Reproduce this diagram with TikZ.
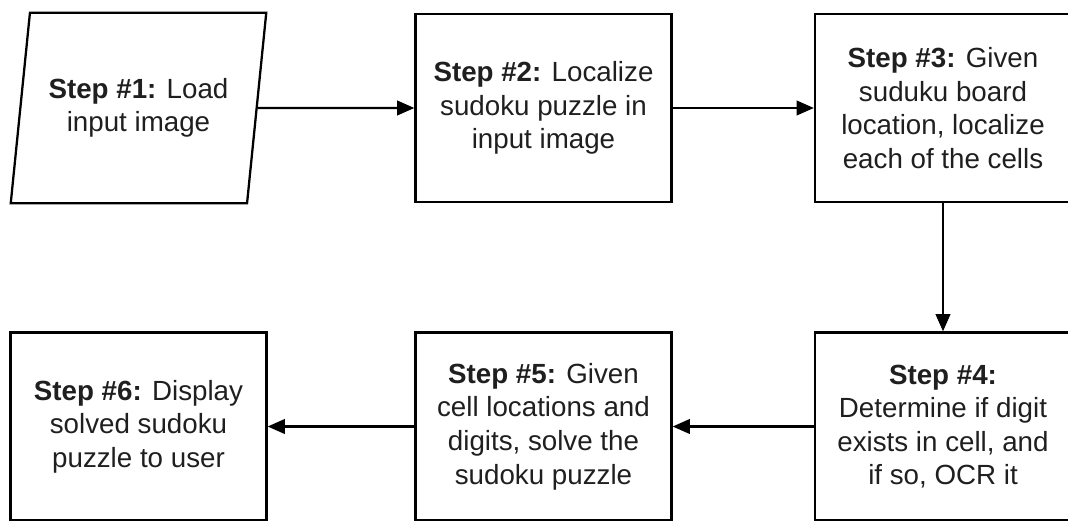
\documentclass[tikz,border=0pt]{standalone}
\usepackage{fontspec}
\setmainfont{Liberation Sans}
\usetikzlibrary{arrows.meta,positioning,shapes.geometric}

\tikzset{
  stepbox/.style={draw,line width=1.7pt,rectangle,align=center,
    minimum width=192pt,minimum height=141pt,inner sep=0pt,
    font=\fontsize{20.8}{25.2}\selectfont,text=black!88},
  inputbox/.style={draw,line width=1.7pt,trapezium,trapezium left angle=75,
    trapezium right angle=105,trapezium stretches=true,align=center,
    minimum width=192pt,minimum height=143pt,inner sep=0pt,
    font=\fontsize{20.8}{25.2}\selectfont,text=black!88},
  flow/.style={line width=1.6pt,-{Triangle[length=13pt,width=11pt]}}
}

\begin{document}
\begin{tikzpicture}[x=0.75pt,y=-0.75pt]
  \useasboundingbox (0,0) rectangle (1068,521);
  % top row
  \node[inputbox] (s1) at (138.5,108) {\textbf{Step \#1:} Load\\input image};
  \node[stepbox] (s2) at (543.5,108) {\textbf{Step \#2:} Localize\\sudoku puzzle in\\input image};
  \node[stepbox] (s3) at (943,108) {\textbf{Step \#3:} Given\\suduku board\\location, localize\\each of the cells};
  % bottom row
  \node[stepbox] (s4) at (943,426.5) {\textbf{Step \#4:}\\Determine if digit\\exists in cell, and\\if so, OCR it};
  \node[stepbox] (s5) at (543.5,426.5) {\textbf{Step \#5:} Given\\cell locations and\\digits, solve the\\sudoku puzzle};
  \node[stepbox] (s6) at (138.5,426.5) {\textbf{Step \#6:} Display\\solved sudoku\\puzzle to user};
  % connectors
  \draw[flow] (s1) -- (s2);
  \draw[flow] (s2) -- (s3);
  \draw[flow] (s3) -- (s4);
  \draw[flow] (s4) -- (s5);
  \draw[flow] (s5) -- (s6);
\end{tikzpicture}
\end{document}
